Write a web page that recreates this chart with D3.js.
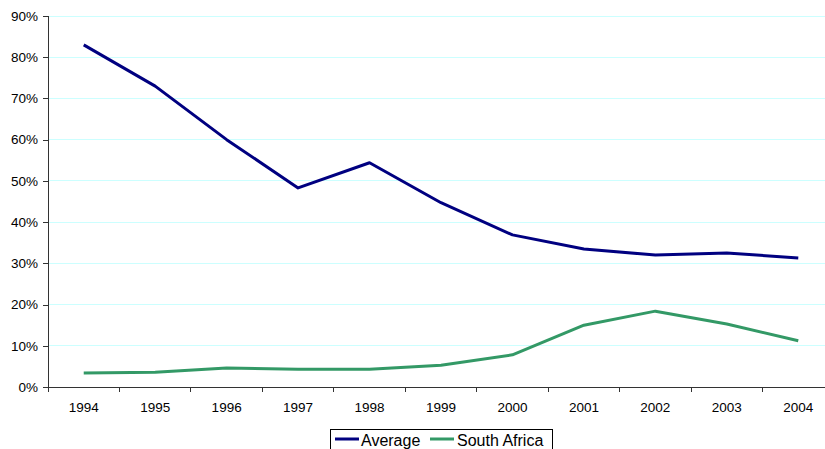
<!DOCTYPE html>
<html><head><meta charset="utf-8">
<script src="https://cdn.jsdelivr.net/npm/d3@7"></script>
<style>body{margin:0;background:#fff;overflow:hidden}svg{display:block}</style>
</head><body><svg id="c" width="825" height="449"></svg>
<script>
const years = ["1994","1995","1996","1997","1998","1999","2000","2001","2002","2003","2004"];
const average = [83.0,73.0,60.0,48.3,54.4,44.7,36.9,33.5,32.0,32.5,31.3];
const southAfrica = [3.4,3.6,4.6,4.3,4.3,5.3,7.8,15.0,18.4,15.3,11.2];
const yTicks = [0,10,20,30,40,50,60,70,80,90];
const seriesNames = ["Average","South Africa"];
const colors = ["#000080","#339966"];

const svg = d3.select("#c");
const L = 48, R = 834, T = 16, B = 387;
const x = d3.scaleBand().domain(years).range([L, R]);
const y = d3.scaleLinear().domain([0, 90]).range([B, T]);
const font = "Liberation Sans, Arial, sans-serif";

// gridlines
svg.append("g").selectAll("line").data(yTicks.slice(1)).join("line")
  .attr("x1", L).attr("x2", R).attr("y1", d => y(d)).attr("y2", d => y(d))
  .attr("stroke", "#ccffff").attr("stroke-width", 1).attr("shape-rendering","crispEdges");

// y axis
const ya = svg.append("g").attr("transform", `translate(${L},0)`)
  .call(d3.axisLeft(y).tickValues(yTicks).tickFormat(d => d + "%").tickSizeOuter(0).tickSize(5).tickPadding(5));
ya.selectAll("path,line").attr("stroke", "#333").attr("shape-rendering","crispEdges");
ya.selectAll("text").attr("font-family", font).attr("font-size", 13.5).attr("fill", "#000");

// x axis
const xa = svg.append("g").attr("transform", `translate(0,${B})`)
  .call(d3.axisBottom(x).tickSize(0).tickPadding(15));
xa.select("path").attr("stroke", "#333").attr("shape-rendering","crispEdges");
xa.selectAll("text").attr("font-family", font).attr("font-size", 13.5).attr("fill", "#000");
// category boundary ticks
xa.append("g").selectAll("line").data(years).join("line")
  .attr("x1", d => x(d)).attr("x2", d => x(d)).attr("y1", 0).attr("y2", 5)
  .attr("stroke", "#333").attr("shape-rendering","crispEdges");

const line = d3.line().x((d, i) => x(years[i]) + x.bandwidth() / 2).y(d => y(d));
[average, southAfrica].forEach((s, k) => {
  svg.append("path").datum(s).attr("d", line).attr("fill", "none")
    .attr("stroke", colors[k]).attr("stroke-width", 3).attr("stroke-linejoin", "round");
});

// legend
const lg = svg.append("g");
lg.append("rect").attr("x", 330.5).attr("y", 429.5).attr("width", 222).attr("height", 30)
  .attr("fill", "#fff").attr("stroke", "#000").attr("stroke-width", 1);
const items = [{x: 335, tx: 361}, {x: 430, tx: 457}];
items.forEach((it, k) => {
  lg.append("line").attr("x1", it.x).attr("x2", it.x + 24).attr("y1", 439).attr("y2", 439)
    .attr("stroke", colors[k]).attr("stroke-width", 3);
  lg.append("text").attr("x", it.tx).attr("y", 446).text(seriesNames[k])
    .attr("font-family", font).attr("font-size", 16).attr("fill", "#000");
});
</script></body></html>
